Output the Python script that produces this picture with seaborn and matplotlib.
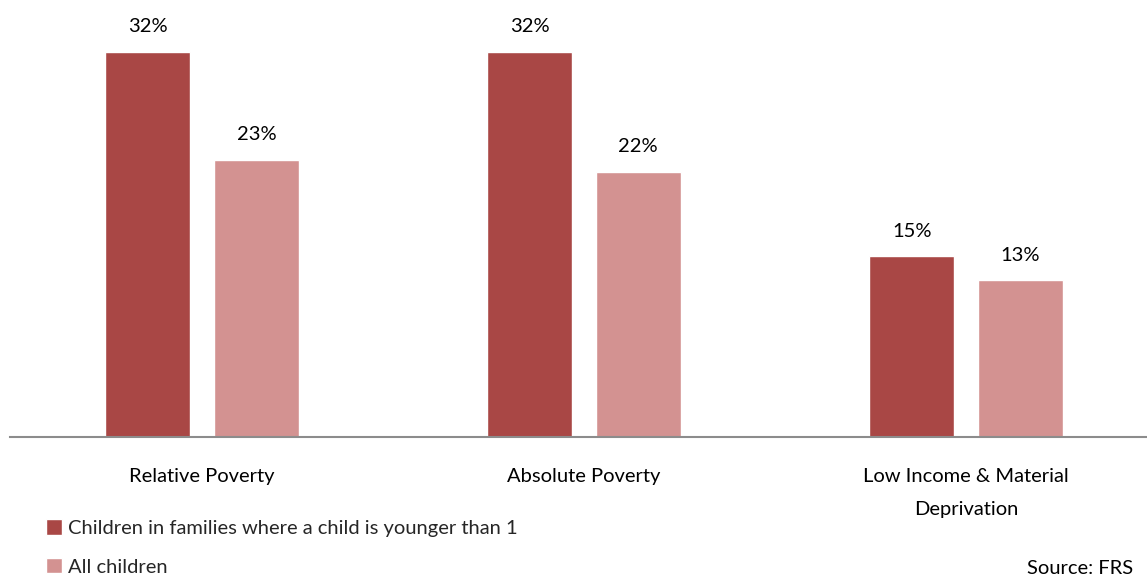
import pandas as pd
import matplotlib
matplotlib.use("Agg")
import matplotlib.pyplot as plt
import seaborn as sns
from matplotlib.patches import Patch

categories = ["Relative Poverty", "Absolute Poverty", "Low Income & Material\nDeprivation"]
groups = ["Children in families where a child is younger than 1", "All children"]
young_child = [32, 32, 15]
all_children = [23, 22, 13]

DARK = "#A94745"
LIGHT = "#D39291"

df = pd.DataFrame({
    "category": categories * 2,
    "group": [groups[0]] * 3 + [groups[1]] * 3,
    "value": young_child + all_children,
})

sns.set_theme(style="white")
plt.rcParams["font.family"] = ["Lato", "DejaVu Sans"]

fig = plt.figure(figsize=(11.47, 5.8), dpi=100)
ax = fig.add_axes([10 / 1147, 143 / 580, 1137 / 1147, 437 / 580])

sns.barplot(data=df, x="category", y="value", hue="group", order=categories,
            hue_order=groups, palette=[DARK, LIGHT], width=0.568, gap=0.215,
            saturation=1, legend=False, ax=ax)

for cont in ax.containers:
    ax.bar_label(cont, fmt="%.0f%%", padding=12, fontsize=14.5, color="black")

ax.set_xlim(-0.503, 2.474)
ax.set_ylim(0, 36.3)
ax.set_xlabel("")
ax.set_ylabel("")
ax.set_yticks([])
ax.set_xticks(range(len(categories)))
ax.set_xticklabels(categories)
ax.tick_params(axis="x", length=0, pad=22, labelsize=14.5, labelcolor="black")
for tick in ax.xaxis.get_major_ticks():
    tick.label1.set_linespacing(2.2)
for s in ["top", "right", "left"]:
    ax.spines[s].set_visible(False)
ax.spines["bottom"].set_color("#8C8C8C")
ax.spines["bottom"].set_linewidth(1.5)

handles = [Patch(facecolor=DARK), Patch(facecolor=LIGHT)]
fig.legend(handles, groups, loc="upper left", bbox_to_anchor=(28 / 1147, 1 - 501 / 580),
           frameon=False, fontsize=14.5, handlelength=0.8, handleheight=0.8,
           handletextpad=0.3, labelspacing=1.05)

fig.text(1133 / 1147, 12 / 580, "Source: FRS", ha="right", va="center",
         fontsize=14.5, color="black")

fig.savefig("out.png", dpi=100)
